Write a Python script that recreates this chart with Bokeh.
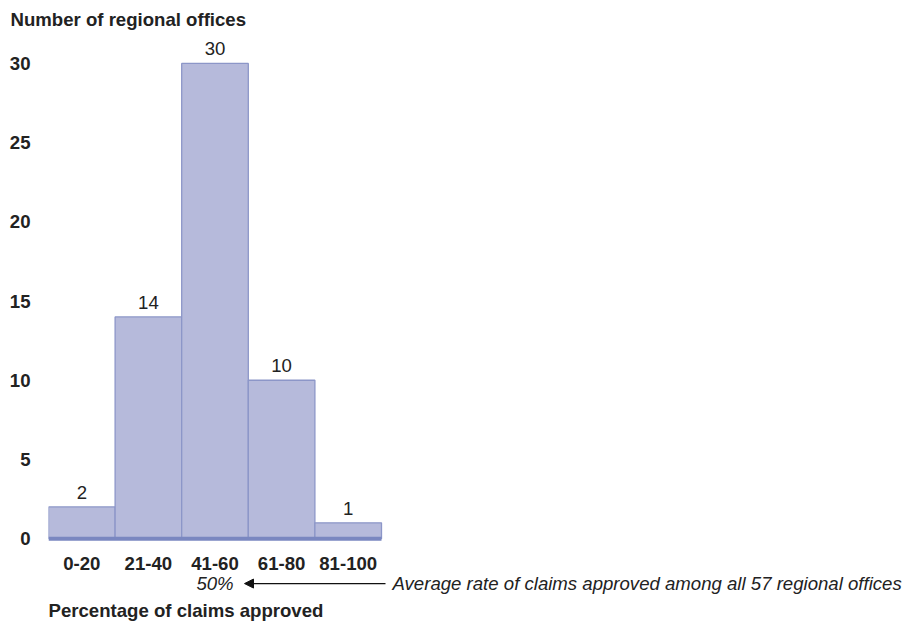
from bokeh.plotting import figure
from bokeh.models import FixedTicker, Range1d, Arrow, NormalHead, Title
from bokeh.core.properties import value
from bokeh.embed import file_html
from bokeh.resources import INLINE

categories = ["0-20", "21-40", "41-60", "61-80", "81-100"]
counts = [2, 14, 30, 10, 1]
y_ticks = [0, 5, 10, 15, 20, 25, 30]
average_pct = "50%"
average_bin = 2  # index of the bin containing the average
note = "Average rate of claims approved among all 57 regional offices"
title_text = "Number of regional offices"
x_title = "Percentage of claims approved"

FONT = "Liberation Sans"
FS = "18.6px"
TXT = "#222222"

W, H = 910, 622
left_b, top_b = 48, 35
frame_w = W - left_b
frame_h = H - top_b
px_x = 66.6
px_y = 15.867
zero_px = 538 - top_b  # pixels from frame top to y=0

y_top = zero_px / px_y
y_bot = -(frame_h - zero_px) / px_y

p = figure(width=W, height=H, output_backend="svg", toolbar_location=None,
           x_range=Range1d(0, frame_w / px_x), y_range=Range1d(y_bot, y_top),
           min_border_left=left_b, min_border_right=0, min_border_top=top_b,
           min_border_bottom=0)
p.outline_line_color = None
p.grid.visible = False
p.xaxis.visible = False
p.background_fill_color = "white"
p.border_fill_color = "white"

t = Title(text=title_text, align="left", offset=-38, text_font=FONT,
          text_font_size=FS, text_font_style="bold", text_color=TXT,
          standoff=13)
p.add_layout(t, "above")

ya = p.yaxis[0]
ya.ticker = FixedTicker(ticks=y_ticks)
ya.axis_line_color = None
ya.major_tick_line_color = None
ya.minor_tick_line_color = None
ya.major_tick_out = 0
ya.major_tick_in = 0
ya.minor_tick_out = 0
ya.major_label_standoff = 18
ya.major_label_text_font = FONT
ya.major_label_text_font_size = FS
ya.major_label_text_font_style = "bold"
ya.major_label_text_color = TXT

xs = [i + 0.5 for i in range(len(categories))]
p.vbar(x=xs, top=counts, bottom=0, width=1.0, fill_color="#b6badb",
       line_color="#8c96c8", line_width=1.3)
p.line(x=[0, len(categories)], y=[0, 0], line_color="#7a87c0", line_width=4)

p.text(x=xs, y=counts, text=[str(c) for c in counts], y_offset=-8,
       text_align="center", text_baseline="bottom", text_font=value(FONT),
       text_font_size=FS, text_color=TXT)

p.text(x=xs, y=[-25 / px_y] * len(xs), text=categories, text_align="center",
       text_baseline="middle", text_font=value(FONT), text_font_size=FS,
       text_font_style="bold", text_color=TXT)

y_note = -45 / px_y
p.text(x=[average_bin + 0.5], y=[y_note], text=[average_pct], text_align="center",
       text_baseline="middle", text_font=value(FONT), text_font_size=FS,
       text_font_style="italic", text_color=TXT)
p.add_layout(Arrow(end=NormalHead(size=9, fill_color="#111111", line_color="#111111"),
                   x_start=(385 - 48) / px_x, y_start=y_note,
                   x_end=(244 - 48) / px_x, y_end=y_note,
                   line_color="#111111", line_width=1.2))
p.text(x=[(392 - 48) / px_x], y=[y_note], text=[note], text_align="left",
       text_baseline="middle", text_font=value(FONT), text_font_size=FS,
       text_font_style="italic", text_color=TXT)

p.text(x=[0], y=[-72 / px_y], text=[x_title], text_align="left",
       text_baseline="middle", text_font=value(FONT), text_font_size=FS,
       text_font_style="bold", text_color=TXT)

open("out.html", "w").write(file_html(p, INLINE))
